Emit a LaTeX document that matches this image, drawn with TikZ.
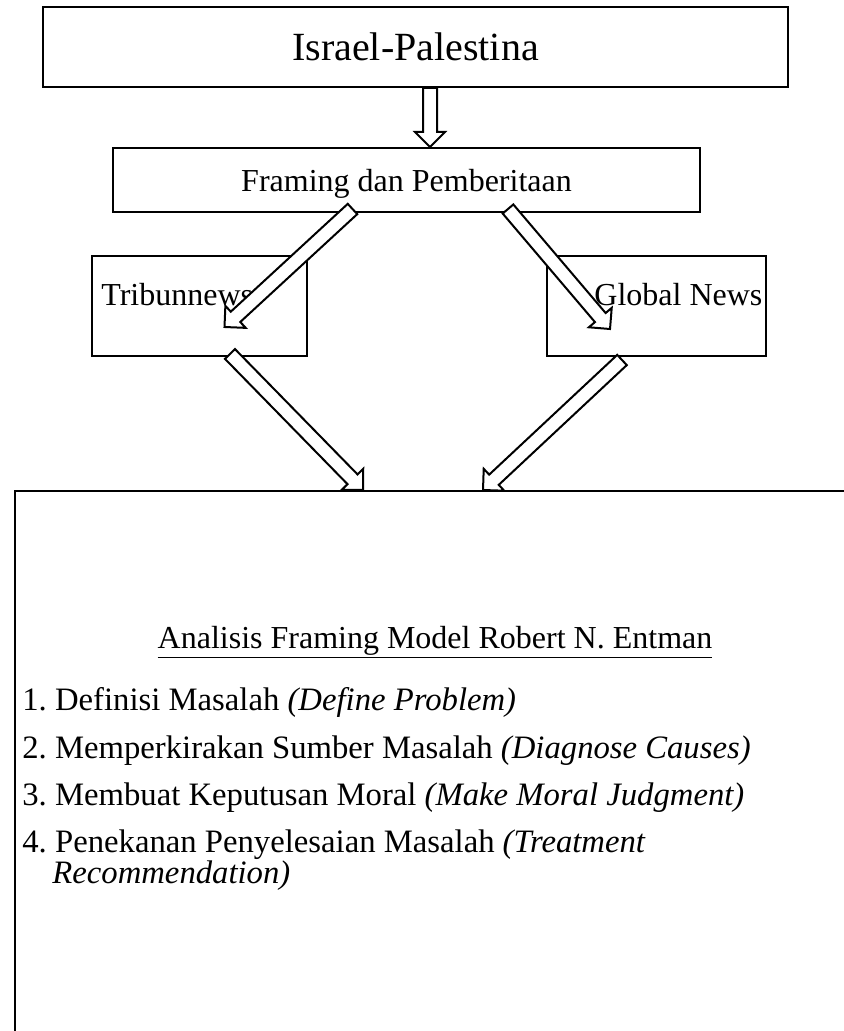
\documentclass[tikz,border=0pt]{standalone}
\usepackage{fontspec}
\setmainfont{Liberation Serif}
\usetikzlibrary{calc}
\frenchspacing

% hollow block arrow from tail #1 to tip #2
\newcommand{\blockarrow}[2]{%
  \coordinate (ba-n) at ($(#2)!7.5pt!(#1)$);
  \draw[barrow] ($(#1)!3.5pt!90:(#2)$) -- ($(ba-n)!3.5pt!90:(#2)$) -- ($(ba-n)!7.5pt!90:(#2)$) -- (#2)
    -- ($(ba-n)!7.5pt!-90:(#2)$) -- ($(ba-n)!3.5pt!-90:(#2)$) -- ($(#1)!3.5pt!-90:(#2)$) -- cycle;}

\begin{document}
\begin{tikzpicture}[
  x=0.5pt, y=-0.5pt,
  font=\fontsize{16}{15.5}\selectfont,
  box/.style={draw, line width=1pt, inner sep=0pt},
  barrow/.style={draw, fill=white, line width=1pt, line join=miter},
  txt/.style={anchor=base west, inner sep=0pt},
  item/.style={txt, font=\fontsize{16.35}{15.5}\selectfont},
]
\useasboundingbox (0,0) rectangle (844,1031);
\clip (0,0) rectangle (844,1031);
% boxes (top to bottom)
\node[box, minimum width=372.5pt, minimum height=40pt, font=\fontsize{20}{24}\selectfont] (israel) at (415.5,47) {Israel-Palestina};
\node[box, minimum width=293.5pt, minimum height=32pt, text depth=0pt] (framing) at (406.5,180) {Framing dan Pemberitaan};
\node[box, minimum width=107.5pt, minimum height=50pt] (trib) at (199.5,306) {};
\node[box, minimum width=109.5pt, minimum height=50pt] (global) at (656.5,306) {};
\node[box, anchor=north west, minimum width=440pt, minimum height=300pt] (analysis) at (14,490) {};
% arrow ends
\coordinate (t1) at ($(israel.south)+(14.5,0)$);
\coordinate (h1) at ($(framing.north)+(23.5,0)$);
\coordinate (t2) at ($(framing.south)+(-54,-4)$);
\coordinate (h2) at ($(trib.center)+(25,21)$);
\coordinate (t3) at ($(framing.south)+(101.5,-4)$);
\coordinate (h3) at ($(global.center)+(-46.5,23)$);
\coordinate (t4) at ($(trib.south)+(30.5,-3)$);
\coordinate (h4) at ($(analysis.north west)+(349,0)$);
\coordinate (t5) at ($(global.south)+(-34.5,3)$);
\coordinate (h5) at ($(analysis.north west)+(469,0)$);
% labels in the news boxes
\node[txt] (tribtxt) at ($(trib.north west)+(10,51)$) {Tribunnews};
\node[txt] (globtxt) at ($(global.north west)+(48,51)$) {Global News};
% arrows
\blockarrow{t1}{h1}
\blockarrow{t2}{h2}
\blockarrow{t3}{h3}
\blockarrow{t4}{h4}
\blockarrow{t5}{h5}
% analysis text
\node[anchor=base, inner sep=0pt] (title) at ($(analysis.north west)+(421,158)$) {\underline{Analisis Framing Model Robert N. Entman}};
\node[item] (item1) at ($(analysis.north west)+(8,220)$) {1. Definisi Masalah \textit{(Define Problem)}};
\node[item] (item2) at ($(analysis.north west)+(8,268)$) {2. Memperkirakan Sumber Masalah \textit{(Diagnose Causes)}};
\node[item] (item3) at ($(analysis.north west)+(8,315)$) {3. Membuat Keputusan Moral \textit{(Make Moral Judgment)}};
\node[item, align=left] (item4) at ($(analysis.north west)+(8,393)$) {4. Penekanan Penyelesaian Masalah \textit{(Treatment}\\ \hspace*{15pt}\textit{Recommendation)}};
\end{tikzpicture}
\end{document}
